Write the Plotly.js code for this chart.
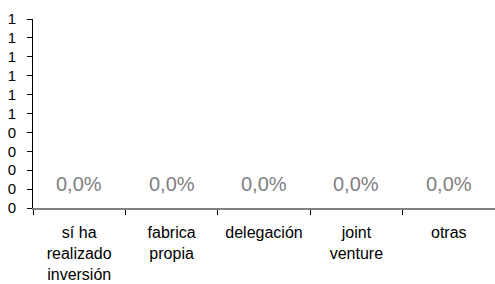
<!DOCTYPE html>
<html>
<head>
<meta charset="utf-8">
<script src="https://cdn.plot.ly/plotly-3.0.1.min.js"></script>
<style>html,body{margin:0;padding:0;background:#fff;}#chart{width:495px;height:284px;}</style>
</head>
<body>
<div id="chart"></div>
<script>
var categories = ['sí ha<br>realizado<br>inversión', 'fabrica<br>propia', 'delegación', 'joint<br>venture', 'otras'];
var values = [0, 0, 0, 0, 0];
var valueLabels = ['0,0%', '0,0%', '0,0%', '0,0%', '0,0%'];
var yTickVals = [0, 0.1, 0.2, 0.3, 0.4, 0.5, 0.6, 0.7, 0.8, 0.9, 1.0];
var yTickText = ['0', '0', '0', '0', '0', '1', '1', '1', '1', '1', '1'];

var FONT = 'Liberation Sans, Arial, sans-serif';

var trace = {
  type: 'bar',
  x: categories,
  y: values,
  marker: {color: '#808080'},
  hoverinfo: 'skip'
};

var annotations = categories.map(function (c, i) {
  return {
    x: c, y: values[i], xref: 'x', yref: 'y',
    text: valueLabels[i], showarrow: false,
    yanchor: 'middle', yshift: 24,
    font: {family: FONT, size: 20, color: '#808080'}
  };
});

var layout = {
  width: 495, height: 284,
  margin: {l: 33, r: 0, t: 19, b: 76, pad: 0},
  paper_bgcolor: '#ffffff', plot_bgcolor: '#ffffff',
  showlegend: false,
  font: {family: FONT, size: 16, color: '#000000'},
  xaxis: {
    type: 'category',
    showgrid: false, zeroline: false,
    showline: true, linecolor: '#808080', linewidth: 2,
    ticks: 'outside', tickson: 'boundaries', ticklen: 5, tickcolor: '#000000', tickwidth: 1,
    tickfont: {family: FONT, size: 16, color: '#000000'},
    ticklabelstandoff: 9
  },
  yaxis: {
    range: [0, 1], fixedrange: true,
    showgrid: false, zeroline: false,
    showline: true, linecolor: '#000000', linewidth: 1,
    ticks: 'outside', ticklen: 5, tickcolor: '#000000', tickwidth: 1,
    tickmode: 'array', tickvals: yTickVals, ticktext: yTickText,
    tickfont: {family: FONT, size: 15, color: '#000000'},
    ticklabelstandoff: 8
  },
  annotations: annotations
};

Plotly.newPlot('chart', [trace], layout, {displayModeBar: false, staticPlot: true});
</script>
</body>
</html>
